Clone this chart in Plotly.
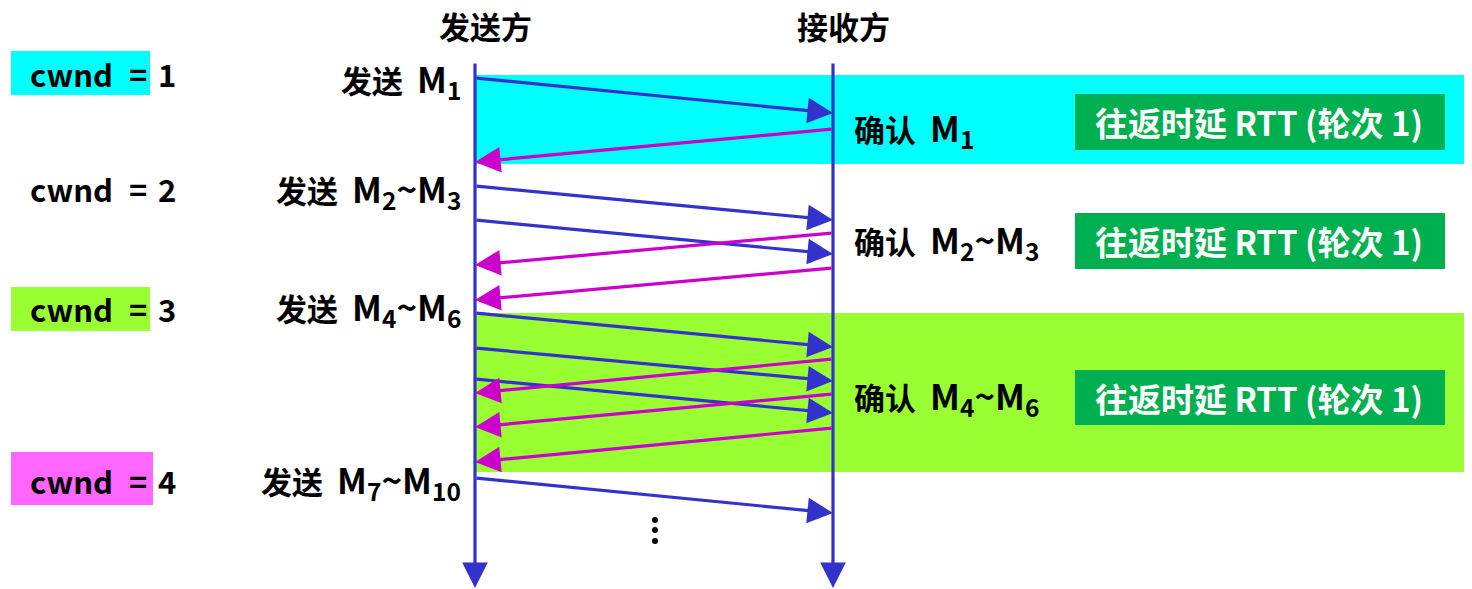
import plotly.graph_objects as go

# ---- data ----
cwnd_values = [1, 2, 3, 4]
cwnd_label_y = [73, 188, 308, 480]
send_prefix = "发送"
send_msgs = ["M<sub>1</sub>", "M<sub>2</sub>~M<sub>3</sub>",
             "M<sub>4</sub>~M<sub>6</sub>", "M<sub>7</sub>~M<sub>10</sub>"]
send_label_y = [79, 189, 307, 480]
ack_prefix = "确认"
ack_msgs = ["M<sub>1</sub>", "M<sub>2</sub>~M<sub>3</sub>", "M<sub>4</sub>~M<sub>6</sub>"]
ack_label_y = [128, 240, 396]
rtt_text = "往返时延 RTT (轮次 1)"
rtt_box_y = [(94, 150), (213, 269), (370, 425)]

# segment send times (leave sender) and arrival times (at receiver)
seg_send_t = [78, 186, 220, 313, 348, 379, 478]
seg_recv_t = [113, 220, 254, 347, 381, 413, 513]
# ack send times (leave receiver) and arrival times (at sender)
ack_send_t = [129, 233, 268, 359, 394, 428]
ack_recv_t = [162, 265, 300, 393, 427, 462]

# rounds highlighted
band_ranges = [(75, 164, "#00FFFF"), (313, 472, "#99FF33")]
cwnd_boxes = [(0, 51, 95, "#00FFFF"), (2, 287, 331, "#99FF33"), (3, 452, 505, "#FF66FF")]

SX, RX = 475, 833
BLUE = "#3333CC"
MAG = "#CC00CC"
FONT = "Noto Sans CJK SC"
OFF = 8  # page body margin compensation

fig = go.Figure()
fig.add_trace(go.Scatter(x=[OFF, 1472], y=[OFF, 589], mode="markers",
                         marker=dict(opacity=0), hoverinfo="skip", showlegend=False))

shapes = []
for y0, y1, c in band_ranges:
    shapes.append(dict(type="rect", x0=SX, x1=1480, y0=y0, y1=y1,
                       fillcolor=c, line=dict(width=0), layer="below"))
for idx, y0, y1, c in cwnd_boxes:
    shapes.append(dict(type="rect", x0=11, x1=150 if idx != 3 else 153, y0=y0, y1=y1,
                       fillcolor=c, line=dict(width=0), layer="below"))
for y0, y1 in rtt_box_y:
    shapes.append(dict(type="rect", x0=1075, x1=1445, y0=y0, y1=y1,
                       fillcolor="#00B050", line=dict(width=0), layer="below"))

ann = []
def arrow(x0, y0, x1, y1, color):
    ann.append(dict(x=x1, y=y1, ax=x0, ay=y0, xref="x", yref="y", axref="x", ayref="y",
                    showarrow=True, arrowhead=2, arrowsize=1.6, arrowwidth=3.2,
                    arrowcolor=color, text="", standoff=0, startstandoff=0))

# timelines
arrow(SX, 62, SX, 588, BLUE)
arrow(RX, 62, RX, 588, BLUE)
for t0, t1 in zip(seg_send_t, seg_recv_t):
    arrow(SX, t0, RX, t1, BLUE)
for t0, t1 in zip(ack_send_t, ack_recv_t):
    arrow(RX, t0, SX, t1, MAG)

def text(x, y, s, anchor="center", color="black", size=31, yanchor="middle"):
    ann.append(dict(x=x, y=y, xref="x", yref="y", text=s, showarrow=False,
                    xanchor=anchor, yanchor=yanchor,
                    font=dict(family=FONT, size=size, color=color, weight="bold")))

def mixed(prefix, latin):
    return prefix + "  <span style='font-size:35px'>" + latin + "</span>"

text(485, 25, "发送方")
text(843, 25, "接收方")
for v, y in zip(cwnd_values, cwnd_label_y):
    text(28, y, "cwnd", "left")
    text(138, y, "=")
    text(167, y, str(v))
for s, y in zip(send_msgs, send_label_y):
    text(463, y, mixed(send_prefix, s), "right")
for s, y in zip(ack_msgs, ack_label_y):
    text(852, y, mixed(ack_prefix, s), "left")
for y0, y1 in rtt_box_y:
    text(1259, (y0 + y1) / 2, rtt_text, "center", "white", 33)

fig.add_trace(go.Scatter(x=[655, 655, 655], y=[520, 530, 541], mode="markers",
                         marker=dict(color="black", size=6), hoverinfo="skip", showlegend=False))

fig.update_layout(
    width=1472, height=589, margin=dict(l=0, r=0, t=0, b=0),
    plot_bgcolor="white", paper_bgcolor="white",
    xaxis=dict(range=[OFF, 1472 + OFF], visible=False, fixedrange=True),
    yaxis=dict(range=[589 + OFF, OFF], visible=False, fixedrange=True),
    shapes=shapes, annotations=ann, showlegend=False,
)
fig.write_html("out.html")
